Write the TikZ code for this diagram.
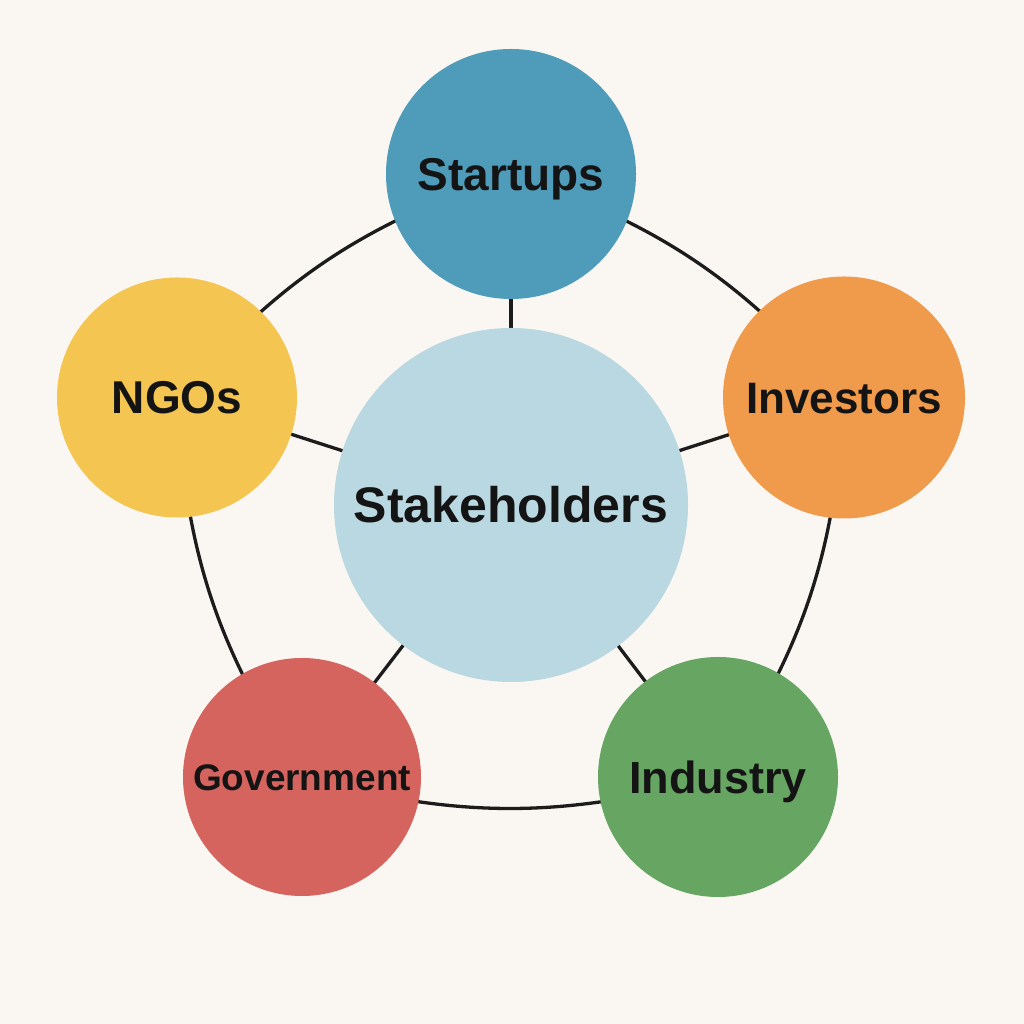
\documentclass[tikz,border=0pt]{standalone}
\usepackage{fontspec}
\setmainfont{Liberation Sans}
\usetikzlibrary{backgrounds}
\definecolor{bgcol}{HTML}{FAF7F2}
\definecolor{linecol}{HTML}{1C1C1C}
\definecolor{txtcol}{HTML}{141414}
\definecolor{hubcol}{HTML}{BAD8E1}
\definecolor{startcol}{HTML}{4F9BBA}
\definecolor{invcol}{HTML}{EF9B4B}
\definecolor{ngocol}{HTML}{F4C551}
\definecolor{govcol}{HTML}{D5645E}
\definecolor{indcol}{HTML}{67A563}
\pgfdeclarelayer{bglayer}
\pgfdeclarelayer{linelayer}
\pgfsetlayers{bglayer,linelayer,main}
\tikzset{
  disc/.style={circle, inner sep=0pt, draw=none, text=txtcol, text depth=0pt},
  link/.style={draw=linecol, line width=3.3pt},
}
\begin{document}
\begin{tikzpicture}[x=1pt,y=1pt]
\useasboundingbox (0,0) rectangle (1024,1024);
\begin{pgfonlayer}{bglayer}
  \fill[bgcol] (0,0) rectangle (1024,1024);
\end{pgfonlayer}

\node[disc, fill=hubcol, minimum size=354pt, text height=35.8pt,
      font=\bfseries\fontsize{50}{60}\selectfont] (hub) at (511,519) {Stakeholders};
\node[disc, fill=startcol, minimum size=250pt, text height=33pt,
      font=\bfseries\fontsize{46}{55}\selectfont] (startups) at (511,850) {Startups};
\node[disc, fill=invcol, minimum size=242pt, text height=31.6pt,
      font=\bfseries\fontsize{44}{53}\selectfont] (investors) at (844,626.5) {Investors};
\node[disc, fill=ngocol, minimum size=240pt, text height=33pt,
      font=\bfseries\fontsize{46}{55}\selectfont] (ngos) at (177,626.5) {NGOs};
\node[disc, fill=govcol, minimum size=238pt, text height=26.5pt,
      font=\bfseries\fontsize{37}{44}\selectfont] (government) at (302,247) {Government};
\node[disc, fill=indcol, minimum size=240pt, text height=32.3pt,
      font=\bfseries\fontsize{45}{54}\selectfont] (industry) at (718,247) {Industry};

\begin{pgfonlayer}{linelayer}
  \foreach \n in {startups,investors,industry,government,ngos}
    \draw[link] (hub.center) -- (\n.center);
  \draw[link] (startups.center) to[bend left=15] (investors.center);
  \draw[link] (investors.center) to[bend left=15] (industry.center);
  \draw[link] (industry.center) to[bend left=15] (government.center);
  \draw[link] (government.center) to[bend left=15] (ngos.center);
  \draw[link] (ngos.center) to[bend left=15] (startups.center);
\end{pgfonlayer}
\end{tikzpicture}
\end{document}
